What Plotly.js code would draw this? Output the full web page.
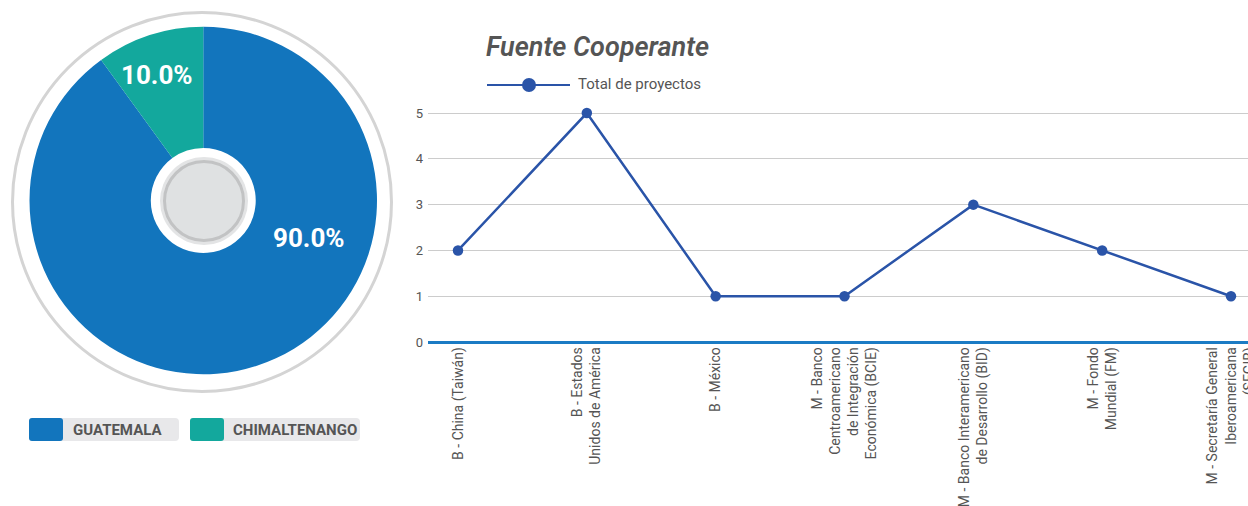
<!DOCTYPE html>
<html>
<head>
<meta charset="utf-8">
<script src="https://cdn.plot.ly/plotly-3.0.1.min.js"></script>
<style>html,body{margin:0;padding:0;background:#fff;}#chart{width:1248px;height:506px;}</style>
</head>
<body>
<div id="chart"></div>
<script>
// ---- data ----
var pieLabels = ["GUATEMALA", "CHIMALTENANGO"];
var pieValues = [90, 10];
var pieColors = ["#1275bd", "#13a89d"];

var categories = [
  "B - China (Taiwán)",
  "B - Estados<br>Unidos de América",
  "B - México",
  "M - Banco<br>Centroamericano<br>de Integración<br>Económica (BCIE)",
  "M - Banco Interamericano<br>de Desarrollo (BID)",
  "M - Fondo<br>Mundial (FM)",
  "M - Secretaría General<br>Iberoamericana<br>(SEGIB)"
];
var totalProyectos = [2, 5, 1, 1, 3, 2, 1];
var seriesName = "Total de proyectos";
var chartTitle = "Fuente Cooperante";

// ---- helpers (page pixel coords, y down) ----
var W = 1248, H = 506;
function px(x) { return x / W; }
function py(y) { return 1 - y / H; }
function circ(cx, cy, r, fill, lineColor, lineWidth) {
  return {type: "circle", xref: "paper", yref: "paper", xsizemode: "pixel", ysizemode: "pixel",
    xanchor: 0, yanchor: 1, x0: cx - r, x1: cx + r, y0: -(cy + r), y1: -(cy - r),
    fillcolor: fill, line: {color: lineColor, width: lineWidth}, layer: "above"};
}
function rrect(x0, y0, x1, y1, r, fill) {
  var p = "M" + (x0 + r) + "," + (-y0) + " L" + (x1 - r) + "," + (-y0) +
    " Q" + x1 + "," + (-y0) + " " + x1 + "," + (-(y0 + r)) +
    " L" + x1 + "," + (-(y1 - r)) + " Q" + x1 + "," + (-y1) + " " + (x1 - r) + "," + (-y1) +
    " L" + (x0 + r) + "," + (-y1) + " Q" + x0 + "," + (-y1) + " " + x0 + "," + (-(y1 - r)) +
    " L" + x0 + "," + (-(y0 + r)) + " Q" + x0 + "," + (-y0) + " " + (x0 + r) + "," + (-y0) + " Z";
  return {type: "path", xref: "paper", yref: "paper", xsizemode: "pixel", ysizemode: "pixel",
    xanchor: 0, yanchor: 1, path: p, fillcolor: fill, line: {width: 0}, layer: "above"};
}

var lineColor = "#2a54a8";
var font = "Roboto, 'Open Sans', sans-serif";

var pie = {
  type: "pie", labels: pieLabels, values: pieValues, sort: false, direction: "clockwise",
  rotation: 0, hole: 0.302, textinfo: "none", hoverinfo: "label+percent",
  marker: {colors: pieColors, line: {width: 0}},
  domain: {x: [px(29.5), px(377)], y: [py(374.5), py(26.5)]},
  showlegend: false
};

var line = {
  type: "scatter", mode: "lines+markers", x: categories, y: totalProyectos, name: seriesName,
  line: {color: lineColor, width: 2.5}, marker: {color: lineColor, size: 10.5},
  cliponaxis: false, showlegend: false, xaxis: "x", yaxis: "y"
};

var shapes = [
  circ(202, 202, 189.5, "rgba(0,0,0,0)", "#d4d4d4", 3),
  circ(204, 201, 44, "#e3e4e5", "#e3e4e5", 0),
  circ(204, 201, 39.5, "#dfe1e2", "#c2c3c4", 3),
  // pie legend
  rrect(29, 418, 179, 441, 4, "#e8e8ea"),
  rrect(29, 418, 63, 441, 3, pieColors[0]),
  rrect(190, 418, 360, 441, 4, "#e8e8ea"),
  rrect(190, 418, 224, 441, 3, pieColors[1]),
  // line legend
  {type: "line", xref: "paper", yref: "paper", xsizemode: "pixel", ysizemode: "pixel",
   xanchor: 0, yanchor: 1, x0: 487, x1: 570, y0: -85, y1: -85, line: {color: lineColor, width: 2}},
  circ(529, 85, 7, lineColor, lineColor, 0)
];

var annotations = [
  {text: "10.0%", x: px(157), y: py(75), xref: "paper", yref: "paper", showarrow: false,
   xanchor: "center", yanchor: "middle", font: {family: font, size: 26, color: "#fff", weight: "bold"}},
  {text: "90.0%", x: px(309), y: py(238), xref: "paper", yref: "paper", showarrow: false,
   xanchor: "center", yanchor: "middle", font: {family: font, size: 26, color: "#fff", weight: "bold"}},
  {text: pieLabels[0], x: px(71), y: py(430), xref: "paper", yref: "paper", showarrow: false,
   xanchor: "left", yanchor: "middle", font: {family: font, size: 15, color: "#555", weight: "bold"}},
  {text: pieLabels[1], x: px(231), y: py(430), xref: "paper", yref: "paper", showarrow: false,
   xanchor: "left", yanchor: "middle", font: {family: font, size: 15, color: "#555", weight: "bold"}},
  {text: seriesName, x: px(576), y: py(84), xref: "paper", yref: "paper", showarrow: false,
   xanchor: "left", yanchor: "middle", font: {family: font, size: 15, color: "#555"}}
];

var layout = {
  width: W, height: H, margin: {l: 0, r: 0, t: 0, b: 0},
  paper_bgcolor: "#fff", plot_bgcolor: "#fff",
  font: {family: font, color: "#555"},
  title: {text: chartTitle, x: px(486), xanchor: "left", xref: "paper", y: py(47), yanchor: "middle", yref: "paper",
          font: {family: font, size: 27, color: "#555", style: "italic", weight: 600}},
  xaxis: {
    domain: [px(428), 1], type: "category", range: [-0.2329, 6.132],
    tickangle: -90, showgrid: false, zeroline: false, showline: false, ticks: "",
    tickfont: {family: font, size: 14, color: "#555"}, automargin: false, fixedrange: true
  },
  yaxis: {
    domain: [py(343.4), py(99.3)], range: [-0.03, 5.3], tickvals: [0, 1, 2, 3, 4, 5],
    showgrid: true, gridcolor: "#cccccc", gridwidth: 1,
    zeroline: true, zerolinecolor: "#1b7bc4", zerolinewidth: 3,
    showline: false, ticks: "", tickfont: {family: font, size: 13, color: "#555"},
    automargin: false, fixedrange: true, ticklabelstandoff: 4
  },
  shapes: shapes, annotations: annotations, showlegend: false
};

Plotly.newPlot("chart", [pie, line], layout, {displayModeBar: false, staticPlot: true});
</script>
</body>
</html>
